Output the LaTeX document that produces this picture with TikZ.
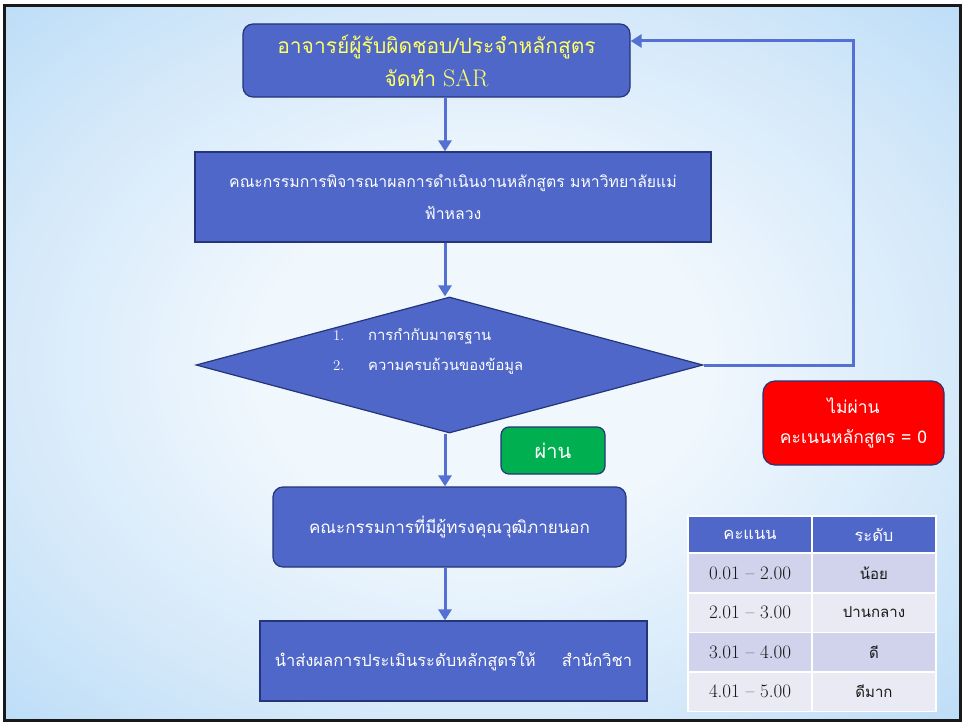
\documentclass[tikz,border=0pt]{standalone}
\usepackage{fontspec}
\newfontfamily\thai[Script=Thai]{Loma}
\usetikzlibrary{arrows.meta,shapes.geometric,calc}
\definecolor{boxblue}{HTML}{4F67C8}
\definecolor{navy}{HTML}{243579}
\definecolor{arrowblue}{HTML}{5470D2}
\definecolor{txtyellow}{HTML}{FFFF66}
\definecolor{passgreen}{HTML}{00B050}
\definecolor{rowA}{HTML}{D0D3EB}
\definecolor{rowB}{HTML}{E9EAF4}
\definecolor{bgin}{HTML}{F0F7FD}
\definecolor{bgmid}{HTML}{CFE6F9}
\definecolor{bgedge}{HTML}{B2D8F6}
\definecolor{bgout}{HTML}{A6D1F5}
\pgfdeclareradialshading{bgshade}{\pgfpoint{0bp}{0bp}}{color(0bp)=(bgin); color(12bp)=(bgin); color(28bp)=(bgmid); color(40bp)=(bgedge); color(50bp)=(bgout)}
\tikzset{
  box/.style={draw=navy, line width=1.2pt, fill=boxblue, text=white,
    font=\thai\fontsize{16.5}{32}\selectfont, align=center, inner sep=0pt},
  rbox/.style={box, rounded corners=10pt},
  arr/.style={draw=arrowblue, line width=3pt, -{Triangle[width=13pt,length=11pt]}},
  tcell/.style={minimum width=124pt, minimum height=39.5pt, inner sep=0pt,
    draw=white, line width=1.5pt, text=black!90, font=\fontsize{19}{22}\selectfont},
  tthai/.style={font=\thai\fontsize{15}{18}\selectfont},
  thcell/.style={tcell, minimum height=37pt, fill=boxblue, text=white, font=\thai\fontsize{16.5}{20}\selectfont}
}
\begin{document}
\begin{tikzpicture}[x=1pt,y=-1pt]
\useasboundingbox (0,0) rectangle (965,725);
\shade[shading=bgshade] (5,5) rectangle (960,720);
\draw[line width=3pt, black!90] (4.5,5.5) rectangle (960.5,720.5);

\coordinate (spine) at (445,0);

\node[rbox, minimum width=387pt, minimum height=73pt, text=txtyellow,
  font=\thai\fontsize{21}{33}\selectfont] (b1) at (436.5,60.5)
  {อาจารย์ผู้รับผิดชอบ/ประจำหลักสูตร\\จัดทำ {\normalfont\fontsize{24}{33}\selectfont SAR}};

\node[box, minimum width=516pt, minimum height=90pt, font=\thai\fontsize{15.8}{32}\selectfont] (b2) at (453,197)
  {คณะกรรมการพิจารณาผลการดำเนินงานหลักสูตร มหาวิทยาลัยแม่\\ฟ้าหลวง};

\node[diamond, draw=navy, fill=boxblue, line width=1.2pt, minimum width=507pt,
  minimum height=136pt, inner sep=0pt] (dia) at (449.5,365) {};
\node[anchor=west, text=white, align=left, inner sep=0pt,
  font=\thai\fontsize{14.8}{30}\selectfont] (diatext) at (333,351)
  {\makebox[35pt][l]{\normalfont 1.}การกำกับมาตรฐาน\\\makebox[35pt][l]{\normalfont 2.}ความครบถ้วนของข้อมูล};

\node[rbox, rounded corners=8pt, fill=passgreen, minimum width=104pt, minimum height=47pt,
  font=\thai\fontsize{20}{24}\selectfont] (pass) at (553,450.5) {ผ่าน};

\node[rbox, rounded corners=12pt, fill=red, minimum width=181pt, minimum height=84pt,
  font=\thai\fontsize{17.5}{30}\selectfont]
  (fail) at (853.5,423) {ไม่ผ่าน\\คะเนนหลักสูตร = 0};

\node[rbox, minimum width=353pt, minimum height=80pt, font=\thai\fontsize{17}{30}\selectfont] (b4) at (449.5,527)
  {คณะกรรมการที่มีผู้ทรงคุณวุฒิภายนอก};

\node[box, minimum width=387pt, minimum height=80pt] (b5) at (453.5,661)
  {นำส่งผลการประเมินระดับหลักสูตรให้\hspace{26pt}สำนักวิชา};

\draw[arr] (b1.south -| spine) -- (b2.north -| spine);
\draw[arr] (b2.south -| spine) -- (dia.north -| spine);
\draw[arr] (dia.south -| spine) -- (b4.north -| spine);
\draw[arr] (b4.south -| spine) -- (b5.north -| spine);
\coordinate (corner) at (853,41);
\draw[arr] (dia.east) -| (corner) -- (corner -| b1.east);

% table
\node[thcell] (h1) at (750,534.5) {คะแนน};
\node[thcell] (h2) at (874,534.5) {ระดับ};
\node[tcell, fill=rowA] (r1a) at (750,573) {0.01 -- 2.00};
\node[tcell, fill=rowA, tthai] (r1b) at (874,573) {น้อย};
\node[tcell, fill=rowB] (r2a) at (750,612.5) {2.01 -- 3.00};
\node[tcell, fill=rowB, tthai] (r2b) at (874,612.5) {ปานกลาง};
\node[tcell, fill=rowA] (r3a) at (750,652) {3.01 -- 4.00};
\node[tcell, fill=rowA, tthai] (r3b) at (874,652) {ดี};
\node[tcell, fill=rowB] (r4a) at (750,691.5) {4.01 -- 5.00};
\node[tcell, fill=rowB, tthai] (r4b) at (874,691.5) {ดีมาก};
\end{tikzpicture}
\end{document}
